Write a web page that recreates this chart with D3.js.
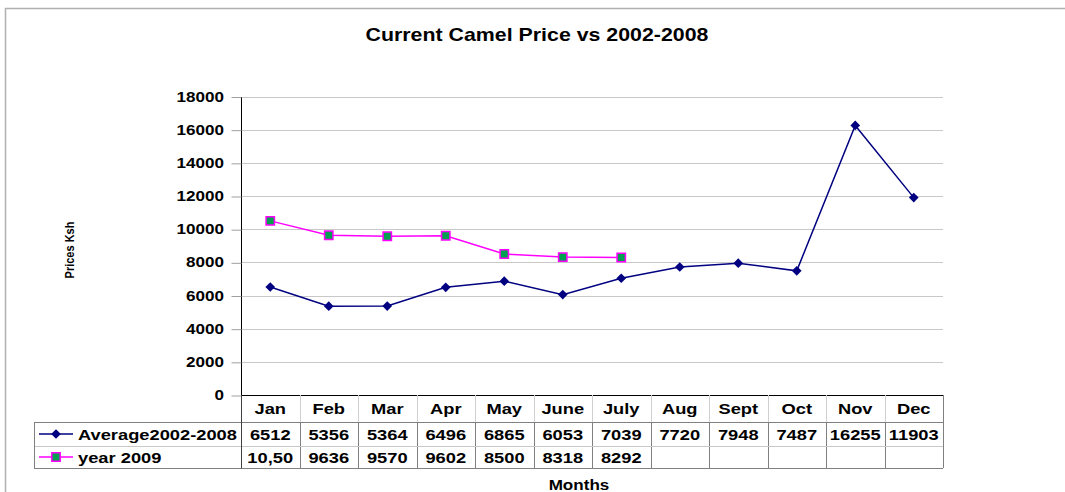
<!DOCTYPE html>
<html lang="en">
<head>
<meta charset="utf-8">
<title>Current Camel Price vs 2002-2008</title>
<script src="https://cdn.jsdelivr.net/npm/d3@7"></script>
<style>
  body { margin: 0; background: #fff; }
  svg { font-family: Arial, "Liberation Sans", sans-serif; }
  text { font-weight: bold; fill: #000; }
</style>
</head>
<body>
<script>
// data
var months = ["Jan", "Feb", "Mar", "Apr", "May", "June", "July", "Aug", "Sept", "Oct", "Nov", "Dec"];
var avgValues = [6512, 5356, 5364, 6496, 6865, 6053, 7039, 7720, 7948, 7487, 16255, 11903];
var y2009Values = [10500, 9636, 9570, 9602, 8500, 8318, 8292];
var y2009Labels = ["10,50", "9636", "9570", "9602", "8500", "8318", "8292"];
var yTicks = [0, 2000, 4000, 6000, 8000, 10000, 12000, 14000, 16000, 18000];

var w = 1065, h = 492;
var plotL = 241, plotR = 943, plotT = 96.5, plotB = 395;
var stretch = 1.22;   // the original text is drawn wide

var svg = d3.select("body").append("svg")
  .attr("width", w)
  .attr("height", h);

// text drawn horizontally stretched
function wideText(g, px, py, anchor, size, str) {
  return g.append("text")
    .attr("transform", "translate(" + px + "," + py + ") scale(" + stretch + ",1)")
    .attr("text-anchor", anchor)
    .attr("font-size", size)
    .text(str);
}

// outer frame
svg.append("path")
  .attr("d", "M5.5," + h + "V8.5H" + w)
  .attr("fill", "none")
  .attr("stroke", "#b0b0b0")
  .attr("stroke-width", 1.5);

var x = d3.scaleBand()
  .domain(months)
  .range([plotL, plotR]);

var y = d3.scaleLinear()
  .domain([0, 18000])
  .range([plotB, plotT]);

// gridlines
svg.append("g")
  .selectAll("line")
  .data(yTicks.slice(1))
  .enter()
  .append("line")
  .attr("x1", plotL)
  .attr("x2", plotR)
  .attr("y1", d => Math.round(y(d)) + 0.5)
  .attr("y2", d => Math.round(y(d)) + 0.5)
  .attr("stroke", "#c8c8c8");

// y axis (ticks from the scale, labels stretched)
var yAxis = svg.append("g")
  .attr("transform", "translate(" + (plotL + 0.5) + ",0.5)")
  .call(d3.axisLeft(y).tickValues(yTicks).tickSize(10).tickFormat(""));
yAxis.select(".domain").attr("stroke", "#000").attr("d", "M0," + plotT + "V" + plotB);
yAxis.selectAll(".tick line").attr("stroke", "#a0a0a0");

var yLab = svg.append("g");
yTicks.forEach(function(t) {
  wideText(yLab, 224, y(t) + 5, "end", 14, d3.format("d")(t));
});

// x axis line
svg.append("line")
  .attr("x1", plotL).attr("x2", plotR)
  .attr("y1", plotB + 0.5).attr("y2", plotB + 0.5)
  .attr("stroke", "#000");

// lines
var line = d3.line()
  .x((d, i) => x(months[i]) + x.bandwidth() / 2)
  .y(d => y(d));

svg.append("path")
  .datum(avgValues)
  .attr("d", line)
  .attr("fill", "none")
  .attr("stroke", "#000080")
  .attr("stroke-width", 1.5);

svg.append("path")
  .datum(y2009Values)
  .attr("d", line)
  .attr("fill", "none")
  .attr("stroke", "#ff00ff")
  .attr("stroke-width", 1.5);

var diamond = d3.symbol().type(d3.symbolDiamond2).size(60);
var square = d3.symbol().type(d3.symbolSquare).size(70);

svg.append("g")
  .selectAll("path")
  .data(avgValues)
  .enter()
  .append("path")
  .attr("d", diamond)
  .attr("transform", (d, i) => "translate(" + (x(months[i]) + x.bandwidth() / 2) + "," + y(d) + ")")
  .attr("fill", "#000080");

svg.append("g")
  .selectAll("path")
  .data(y2009Values)
  .enter()
  .append("path")
  .attr("d", square)
  .attr("transform", (d, i) => "translate(" + (x(months[i]) + x.bandwidth() / 2) + "," + y(d) + ")")
  .attr("fill", "#00a050")
  .attr("stroke", "#ff00ff")
  .attr("stroke-width", 1.5);

// data table
var rowY = [395, 422, 446, 468];
var legLeft = 34;
var tbl = svg.append("g");

// header column separators (light)
tbl.selectAll("line.hsep")
  .data(months.slice(1))
  .enter()
  .append("line")
  .attr("x1", d => Math.round(x(d)) + 0.5)
  .attr("x2", d => Math.round(x(d)) + 0.5)
  .attr("y1", rowY[0])
  .attr("y2", rowY[1])
  .attr("stroke", "#d0d0d0");

// body column separators
tbl.selectAll("line.bsep")
  .data(months.slice(1).concat(["end"]))
  .enter()
  .append("line")
  .attr("x1", d => d === "end" ? plotR + 0.5 : Math.round(x(d)) + 0.5)
  .attr("x2", d => d === "end" ? plotR + 0.5 : Math.round(x(d)) + 0.5)
  .attr("y1", d => d === "end" ? rowY[0] : rowY[1])
  .attr("y2", rowY[3])
  .attr("stroke", "#808080");

// horizontal rules
tbl.selectAll("line.hr")
  .data([1, 2, 3])
  .enter()
  .append("line")
  .attr("x1", legLeft)
  .attr("x2", plotR)
  .attr("y1", d => rowY[d] + 0.5)
  .attr("y2", d => rowY[d] + 0.5)
  .attr("stroke", d => d === 2 ? "#c8c8c8" : "#808080");

// left edges
tbl.append("line")
  .attr("x1", legLeft + 0.5).attr("x2", legLeft + 0.5)
  .attr("y1", rowY[1]).attr("y2", rowY[3] + 0.5)
  .attr("stroke", "#808080");
tbl.append("line")
  .attr("x1", plotL + 0.5).attr("x2", plotL + 0.5)
  .attr("y1", rowY[0]).attr("y2", rowY[3] + 0.5)
  .attr("stroke", "#404040");

// table texts
months.forEach(function(m) {
  wideText(tbl, x(m) + x.bandwidth() / 2, (rowY[0] + rowY[1]) / 2 + 5.5, "middle", 15, m);
});
avgValues.forEach(function(v, i) {
  wideText(tbl, x(months[i]) + x.bandwidth() / 2, (rowY[1] + rowY[2]) / 2 + 5.5, "middle", 15, v);
});
y2009Labels.forEach(function(v, i) {
  wideText(tbl, x(months[i]) + x.bandwidth() / 2, (rowY[2] + rowY[3]) / 2 + 5.5, "middle", 15, v);
});

// legend keys
var legs = [
  { name: "Average2002-2008", color: "#000080", sym: diamond, fill: "#000080", stroke: "none" },
  { name: "year 2009", color: "#ff00ff", sym: square, fill: "#00a050", stroke: "#ff00ff" }
];
legs.forEach(function(l, i) {
  var cy = (rowY[i + 1] + rowY[i + 2]) / 2;
  tbl.append("line")
    .attr("x1", 39).attr("x2", 73)
    .attr("y1", cy).attr("y2", cy)
    .attr("stroke", l.color)
    .attr("stroke-width", 1.5);
  tbl.append("path")
    .attr("d", l.sym)
    .attr("transform", "translate(56," + cy + ")")
    .attr("fill", l.fill)
    .attr("stroke", l.stroke)
    .attr("stroke-width", 1.5);
  wideText(tbl, 78, cy + 5.5, "start", 15, l.name);
});

// titles
wideText(svg, 537, 41, "middle", 17.5, "Current Camel Price vs 2002-2008");

svg.append("text")
  .attr("transform", "translate(74,250) rotate(-90) scale(1,1.15)")
  .attr("text-anchor", "middle")
  .attr("font-size", 11)
  .text("Prices Ksh");

wideText(svg, 579, 490, "middle", 14, "Months");
</script>
</body>
</html>
